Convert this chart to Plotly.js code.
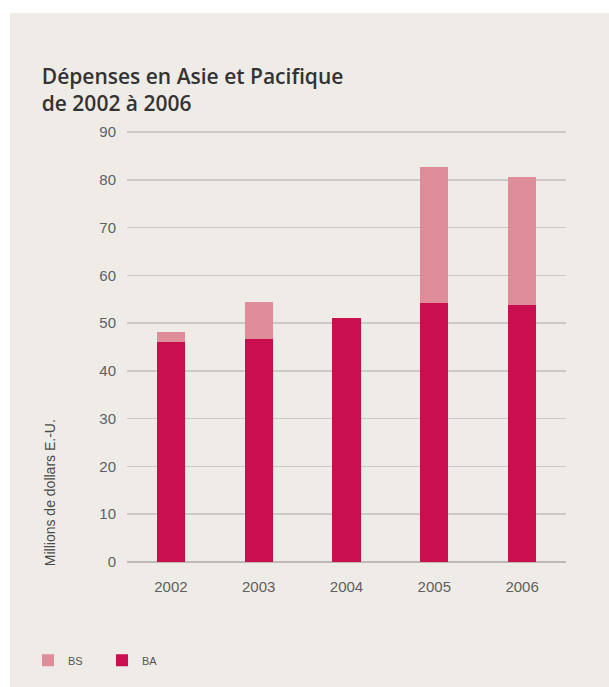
<!DOCTYPE html>
<html>
<head>
<meta charset="utf-8">
<script src="https://cdn.plot.ly/plotly-3.0.1.min.js"></script>
<style>
  html, body { margin: 0; padding: 0; background: #efece8; overflow: hidden; width: 609px; height: 687px; }
  #chart { position: absolute; left: 10px; top: 13px; width: 599px; height: 674px; }
  #topband { position: absolute; left: 0; top: 0; width: 100%; height: 13px; background: #ffffff; }
  #leftband { position: absolute; left: 0; top: 0; width: 10px; height: 100%; background: #ffffff; }
</style>
</head>
<body>
<div id="topband"></div>
<div id="leftband"></div>
<div id="chart"></div>
<script>
const years = ['2002', '2003', '2004', '2005', '2006'];
const baValues = [46.0, 46.8, 51.0, 54.2, 53.8];
const bsValues = [2.2, 7.7, 0, 28.6, 26.8];
const yTicks = [0, 10, 20, 30, 40, 50, 60, 70, 80, 90];

const traces = [
  {
    type: 'bar', name: 'BA', x: years, y: baValues,
    marker: { color: '#c80f50' }, width: 0.32, hoverinfo: 'x+y+name'
  },
  {
    type: 'bar', name: 'BS', x: years, y: bsValues,
    marker: { color: '#e08d9a' }, width: 0.32, hoverinfo: 'x+y+name'
  }
];

const layout = {
  width: 599, height: 674,
  margin: { l: 117, r: 43, t: 118, b: 125 },
  paper_bgcolor: '#efece8',
  plot_bgcolor: 'rgba(0,0,0,0)',
  barmode: 'stack',
  showlegend: true,
  title: {
    text: 'Dépenses en Asie et Pacifique<br>de 2002 à 2006',
    x: 0.053, xanchor: 'left', xref: 'container',
    y: 0.895, yanchor: 'top', yref: 'container',
    font: { family: 'Open Sans', size: 21, color: '#333333', weight: 600 }
  },
  xaxis: {
    type: 'category', categoryarray: years,
    showgrid: false, showline: false, zeroline: false, ticks: '',
    ticklabelstandoff: 14,
    tickfont: { family: 'Liberation Sans', size: 15, color: '#606060' },
    range: [-0.5, 4.5], fixedrange: true
  },
  yaxis: {
    range: [0, 90.25], tickvals: yTicks, ticktext: yTicks.map(String),
    showgrid: true, gridcolor: '#cdc9c4', gridwidth: 1.5,
    zeroline: true, zerolinecolor: '#bdb9b4', zerolinewidth: 1.5,
    showline: false, ticks: '', ticklabelstandoff: 10,
    tickfont: { family: 'Liberation Sans', size: 15, color: '#606060' },
    fixedrange: true
  },
  legend: {
    orientation: 'h', traceorder: 'reversed',
    entrywidth: 29, entrywidthmode: 'pixels',
    x: -0.2255, xanchor: 'left', y: -0.228, yanchor: 'middle',
    font: { family: 'Liberation Sans', size: 11, color: '#555555' },
    bgcolor: 'rgba(0,0,0,0)'
  },
  annotations: [
    {
      text: 'Millions de dollars E.-U.', textangle: -90,
      xref: 'paper', yref: 'paper', x: -0.175, y: 0.16,
      xanchor: 'center', yanchor: 'middle', showarrow: false,
      font: { family: 'Liberation Sans', size: 14, color: '#4a4a4a' }
    }
  ]
};

Plotly.newPlot('chart', traces, layout, { displayModeBar: false, staticPlot: true });
</script>
</body>
</html>
